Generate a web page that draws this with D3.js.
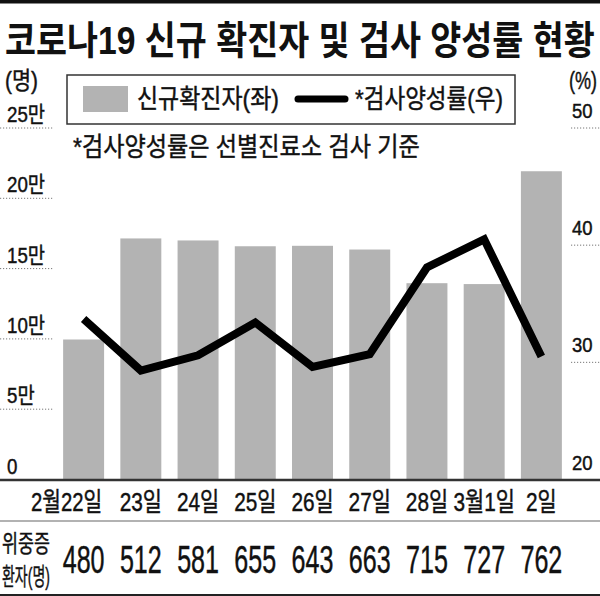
<!DOCTYPE html>
<html><head><meta charset="utf-8">
<script src="https://cdn.jsdelivr.net/npm/d3@7"></script>
<style>
html,body{margin:0;padding:0;background:#fff;}
text{font-family:"Liberation Sans","Noto Sans CJK KR",sans-serif;fill:#111;}
text.reg{stroke:#111;stroke-width:0.45px;}
</style></head>
<body><svg id="c" width="600" height="596"></svg>
<script>
// ---- data ----
const dates = ["2월22일","23일","24일","25일","26일","27일","28일","3월1일","2일"];
const newCases = [99573,171452,170016,165890,166209,163565,139626,138993,219241];
const positivity = [33.7,29.3,30.6,33.4,29.6,30.7,38.1,40.5,30.5];
const critical = [480,512,581,655,643,663,715,727,762];
const leftTicks = [0,50000,100000,150000,200000,250000];
const leftTickLabels = ["0","5만","10만","15만","20만","25만"];
const rightTicks = [20,30,40,50];
const rightTickLabels = ["20","30","40","50"];

const svg = d3.select("#c");
const W = 600;
const yBase = 479.5, yTop = 128;

const x = d3.scaleBand().domain(dates).range([55,570]).paddingInner(0.284).paddingOuter(0.142);
const yL = d3.scaleLinear().domain([0,250000]).range([yBase,yTop]);
const yR = d3.scaleLinear().domain([20,50]).range([yBase,yTop]);

function addText(parent, str, px, py, opts){
  const g = parent.append("g").attr("transform",`translate(${px},${py})`);
  const t = g.append("text").text(str)
    .attr("class", opts.weight ? null : "reg")
    .attr("font-size",opts.size)
    .attr("font-weight",opts.weight||"normal")
    .attr("text-anchor",opts.anchor||"start");
  let sx = opts.scale||1;
  if(opts.fit){
    const w = t.node().getComputedTextLength();
    sx = opts.fit / w;
  }
  t.attr("transform",`scale(${sx},1)`);
  return t;
}

// top bar
svg.append("rect").attr("x",0).attr("y",0).attr("width",W).attr("height",3.5).attr("fill","#111");

// title
addText(svg,"코로나19 신규 확진자 및 검사 양성률 현황",5,54,{size:39,weight:"bold",fit:590});

// unit labels
addText(svg,"(명)",5,89,{size:24,fit:33});
addText(svg,"(%)",569,89,{size:24,fit:28});

// gridlines
leftTicks.filter(d=>d>0).forEach(d=>{
  svg.append("line").attr("x1",0).attr("x2",53).attr("y1",yL(d)).attr("y2",yL(d))
    .attr("stroke","#777").attr("stroke-width",1).attr("stroke-dasharray","1.2,1.8");
});
rightTicks.filter(d=>d>20).forEach(d=>{
  svg.append("line").attr("x1",571).attr("x2",600).attr("y1",yR(d)).attr("y2",yR(d))
    .attr("stroke","#777").attr("stroke-width",1).attr("stroke-dasharray","1.2,1.8");
});
// tick labels
leftTicks.forEach((d,i)=>{
  addText(svg,leftTickLabels[i],7,yL(d)-6,{size:22,scale:0.85});
});
rightTicks.forEach((d,i)=>{
  addText(svg,rightTickLabels[i],572,yR(d)-10,{size:21,scale:0.88});
});

// bars
svg.append("g").selectAll("rect").data(newCases).join("rect")
  .attr("x",(d,i)=>x(dates[i])).attr("width",x.bandwidth())
  .attr("y",d=>yL(d)).attr("height",d=>yBase-yL(d))
  .attr("fill","#b3b3b3");

// line
const line = d3.line().x((d,i)=>x(dates[i])+x.bandwidth()/2).y(d=>yR(d));
svg.append("path").datum(positivity).attr("d",line)
  .attr("fill","none").attr("stroke","#000").attr("stroke-width",8)
  .attr("stroke-linejoin","miter");

// legend
svg.append("rect").attr("x",67).attr("y",75).attr("width",448).attr("height",49)
  .attr("fill","#fff").attr("stroke","#333").attr("stroke-width",1.5);
svg.append("rect").attr("x",83).attr("y",86).attr("width",45).attr("height",26).attr("fill","#b3b3b3");
addText(svg,"신규확진자(좌)",137,108,{size:26,fit:142});
svg.append("line").attr("x1",298).attr("x2",345).attr("y1",99).attr("y2",99)
  .attr("stroke","#000").attr("stroke-width",7).attr("stroke-linecap","round");
addText(svg,"*검사양성률(우)",355,108,{size:26,fit:148});

// footnote
addText(svg,"*검사양성률은 선별진료소 검사 기준",73,156,{size:26,fit:347});

// axis lines
svg.append("line").attr("x1",0).attr("x2",W).attr("y1",480).attr("y2",480).attr("stroke","#333").attr("stroke-width",2.5);
svg.append("line").attr("x1",0).attr("x2",W).attr("y1",521).attr("y2",521).attr("stroke","#999").attr("stroke-width",1.5);
svg.append("line").attr("x1",0).attr("x2",W).attr("y1",595).attr("y2",595).attr("stroke","#222").attr("stroke-width",2);

// x labels (first label right-aligned to its bar, others centred)
dates.forEach((d,i)=>{
  if(i===0){
    addText(svg,d,x(d)+x.bandwidth()-2,511,{size:26,anchor:"end",scale:0.78});
  } else {
    addText(svg,d,x(d)+x.bandwidth()/2,511,{size:26,anchor:"middle",scale:0.8});
  }
});
// critical values row
addText(svg,"위중증",2,552,{size:24,fit:48});
addText(svg,"환자(명)",2,585,{size:24,fit:48});
critical.forEach((v,i)=>{
  addText(svg,String(v),x(dates[i])+x.bandwidth()/2,573,{size:38,anchor:"middle",scale:0.66});
});
</script></body></html>
